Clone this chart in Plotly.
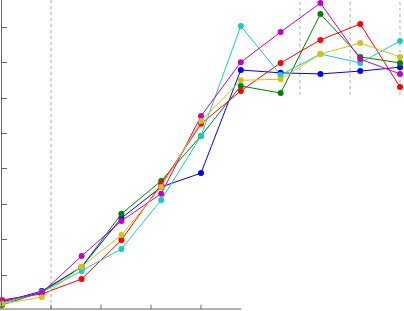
import plotly.graph_objects as go

x_vals = list(range(11))
blue = [0.24, 0.55, 1.23, 2.61, 3.49, 3.88, 6.79, 6.71, 6.68, 6.76, 6.87]
green = [0.16, 0.52, 1.23, 2.73, 3.66, 4.93, 6.34, 6.14, 8.37, 7.16, 6.99]
red = [0.30, 0.47, 0.89, 1.99, 3.57, 5.27, 6.20, 6.99, 7.64, 8.09, 6.31]
cyan = [0.21, 0.52, 1.12, 1.74, 3.12, 4.93, 8.03, 6.65, 7.24, 6.99, 7.61]
magenta = [0.27, 0.50, 1.54, 2.53, 3.30, 5.49, 7.01, 7.86, 8.68, 7.10, 6.68]
yellow = [0.19, 0.38, 1.24, 2.13, 3.49, 5.35, 6.50, 6.53, 7.24, 7.55, 7.16]

series = [
    ("b", blue, "#0000ff"),
    ("g", green, "#008000"),
    ("r", red, "#ff0000"),
    ("c", cyan, "#1ec8c0"),
    ("m", magenta, "#c000c0"),
    ("y", yellow, "#cfc21a"),
]

y_ticks = [1, 2, 3, 4, 5, 6, 7, 8]

fig = go.Figure()
for name, vals, col in series:
    fig.add_trace(go.Scatter(
        x=x_vals, y=vals, mode="lines+markers", name=name,
        line=dict(color=col, width=1),
        marker=dict(color=col, size=6),
        cliponaxis=False,
    ))

# decorative grid / axis pieces (paper coordinates)
dash_full = [0.1219]
dash_top = [0.741, 0.866, 0.990]
shapes = []
for px in dash_full:
    shapes.append(dict(type="line", xref="paper", yref="paper", x0=px, x1=px, y0=0, y1=1,
                       line=dict(color="#aaaaaa", width=1, dash="dot"), layer="below"))
for px in dash_top:
    shapes.append(dict(type="line", xref="paper", yref="paper", x0=px, x1=px, y0=0.693, y1=1,
                       line=dict(color="#aaaaaa", width=1, dash="dot"), layer="below"))
shapes.append(dict(type="line", xref="paper", yref="paper", x0=-0.005, x1=0.595, y0=0, y1=0,
                   line=dict(color="#666666", width=1)))
for px in [0.1219, 0.2463, 0.3706, 0.495]:
    shapes.append(dict(type="line", xref="paper", yref="paper", x0=px, x1=px, y0=0, y1=0.014,
                       line=dict(color="#666666", width=1)))

fig.update_layout(
    width=404, height=311,
    margin=dict(l=2, r=0, t=0, b=2),
    paper_bgcolor="white", plot_bgcolor="white",
    showlegend=False,
    shapes=shapes,
    xaxis=dict(range=[0, 10.1], showgrid=False, zeroline=False, showline=False,
               showticklabels=False, ticks=""),
    yaxis=dict(range=[0.045, 8.766], showgrid=False, zeroline=False, showline=True,
               linecolor="#666666", linewidth=1, ticks="inside", ticklen=5,
               tickcolor="#666666", tickvals=y_ticks, showticklabels=False),
)

fig.write_html("out.html",
               config={"displayModeBar": False},
               post_script="document.body.style.margin='0';document.body.style.overflow='hidden';")
